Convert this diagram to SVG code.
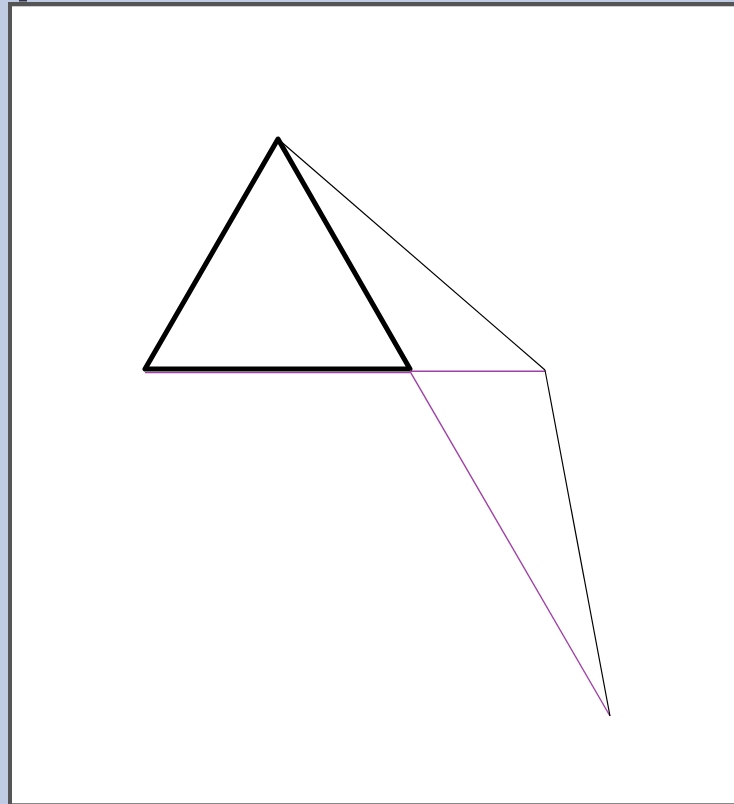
<svg xmlns="http://www.w3.org/2000/svg" width="734" height="804" viewBox="0 0 734 804">
<style>
.thick{stroke:#000;stroke-width:5;fill:none;stroke-linejoin:round;stroke-linecap:round}
.thin{stroke:#000;stroke-width:1.2;fill:none}
.mag{stroke:#a040a8;stroke-width:1.4;fill:none}
</style>
<rect x="0" y="0" width="734" height="804" fill="#ffffff"/>
<rect x="0" y="0" width="8" height="804" fill="#bfcbe2"/>
<rect x="0" y="0" width="734" height="2" fill="#bfcbe2"/>
<rect x="8" y="2" width="726" height="4" fill="#555555"/>
<rect x="8" y="2" width="4" height="802" fill="#555555"/>
<rect x="12" y="6" width="722" height="1" fill="#cccccc"/>
<rect x="12" y="803" width="722" height="1" fill="#888888"/>
<rect x="19" y="0" width="8" height="1.5" fill="#333344"/>
<g id="triangle">
<polygon class="thick" points="278,139 145,369 410,369"/>
</g>
<g id="connectors">
<line class="mag" x1="145" y1="372.6" x2="410" y2="372.6"/>
<line class="mag" x1="410" y1="371.3" x2="545" y2="371.3"/>
<line class="mag" x1="410" y1="371.3" x2="610" y2="716"/>
<line class="thin" x1="278" y1="139" x2="545" y2="370"/>
<line class="thin" x1="545" y1="370" x2="610" y2="716"/>
</g>
</svg>
